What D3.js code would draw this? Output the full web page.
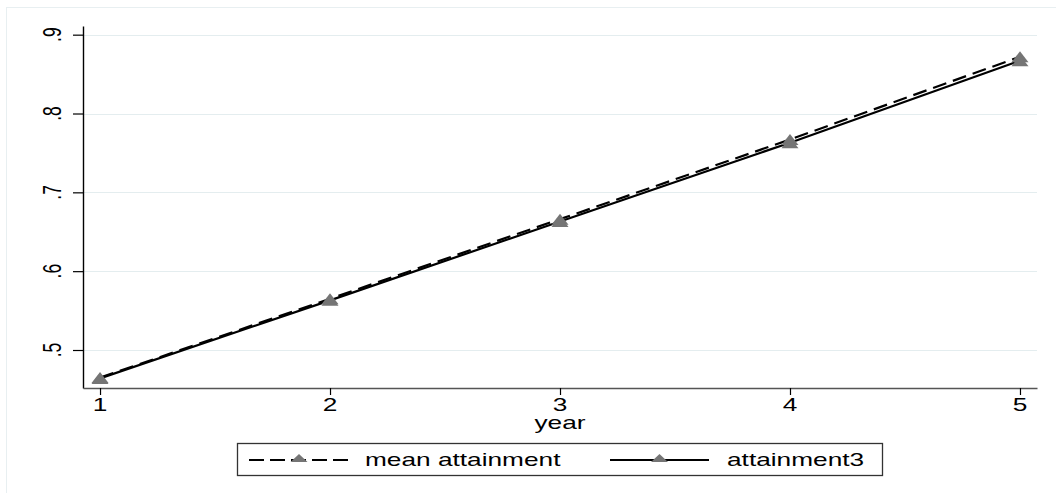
<!DOCTYPE html>
<html>
<head>
<meta charset="utf-8">
<script src="https://cdn.jsdelivr.net/npm/d3@7"></script>
<style>
  body { margin: 0; background: #fff; }
  text { font-family: "Liberation Sans", Arial, sans-serif; }
</style>
</head>
<body>
<svg id="chart" width="1056" height="493"></svg>
<script>
// data
var years = [1, 2, 3, 4, 5];
var meanAttainment = [0.465, 0.565, 0.666, 0.767, 0.872];
var attainment3 = [0.464, 0.563, 0.663, 0.763, 0.867];
var yTicks = [0.5, 0.6, 0.7, 0.8, 0.9];
var yTickLabels = [".5", ".6", ".7", ".8", ".9"];
var seriesNames = ["mean attainment", "attainment3"];

var svg = d3.select("#chart");
var fs = 17.5, stretch = 1.5; // the original was widened, text too

// triangle marker, wider than tall
function triangle(w, h) {
    return "M" + (-w / 2) + "," + (h / 2) + "L0," + (-h / 2) + "L" + (w / 2) + "," + (h / 2) + "Z";
}

// outer graph region frame (light)
svg.append("rect")
    .attr("x", 6.5).attr("y", 7.5)
    .attr("width", 1060).attr("height", 500)
    .attr("fill", "none")
    .attr("stroke", "#e8eff1").attr("stroke-width", 1);

var x = d3.scaleLinear().domain([0.926, 5.074]).range([83, 1037]);
var y = d3.scaleLinear().domain([0.4518, 0.911]).range([388, 26]);

// gridlines
svg.append("g").selectAll("line")
    .data(yTicks)
    .enter().append("line")
    .attr("x1", 84).attr("x2", 1037)
    .attr("y1", function (d) { return Math.round(y(d)) + 0.5; })
    .attr("y2", function (d) { return Math.round(y(d)) + 0.5; })
    .attr("stroke", "#e4edef").attr("stroke-width", 1);

// y axis
var yAxis = d3.axisLeft(y).tickValues(yTicks)
    .tickFormat(function (d, i) { return yTickLabels[i]; })
    .tickSize(10).tickSizeOuter(0);
var gy = svg.append("g").attr("transform", "translate(83,0)").call(yAxis);
gy.select(".domain").attr("stroke", "#000").attr("stroke-width", 1.4);
gy.selectAll(".tick line").attr("stroke", "#000").attr("stroke-width", 1.2);
gy.selectAll(".tick text").remove();
svg.append("g").selectAll("text")
    .data(yTicks)
    .enter().append("text")
    .attr("transform", function (d) {
        return "translate(61," + y(d) + ") scale(" + stretch + ",1) rotate(-90)";
    })
    .attr("text-anchor", "middle")
    .attr("font-size", fs)
    .text(function (d, i) { return yTickLabels[i]; });

// x axis
var xAxis = d3.axisBottom(x).tickValues(years)
    .tickFormat(d3.format("d")).tickSize(7).tickSizeOuter(0);
var gx = svg.append("g").attr("transform", "translate(0,388)").call(xAxis);
gx.select(".domain").attr("stroke", "#555").attr("stroke-width", 1.4);
gx.selectAll(".tick line").attr("stroke", "#000").attr("stroke-width", 1.2);
gx.selectAll(".tick text").remove();
svg.append("g").selectAll("text")
    .data(years)
    .enter().append("text")
    .attr("transform", function (d) {
        return "translate(" + x(d) + ",411) scale(" + stretch + ",1)";
    })
    .attr("text-anchor", "middle")
    .attr("font-size", fs)
    .text(d3.format("d"));

svg.append("text")
    .attr("transform", "translate(" + x(3) + ",429) scale(" + stretch + ",1)")
    .attr("text-anchor", "middle")
    .attr("font-size", fs)
    .text("year");

// lines
var line = function (vals) {
    return d3.line()
        .x(function (d, i) { return x(years[i]); })
        .y(function (d) { return y(d); })(vals);
};

svg.append("path")
    .attr("d", line(attainment3))
    .attr("fill", "none").attr("stroke", "#000").attr("stroke-width", 2.2);
svg.append("path")
    .attr("d", line(meanAttainment))
    .attr("fill", "none").attr("stroke", "#000").attr("stroke-width", 2.2)
    .attr("stroke-dasharray", "14,7");

[meanAttainment, attainment3].forEach(function (vals) {
    svg.append("g").selectAll("path")
        .data(vals)
        .enter().append("path")
        .attr("d", triangle(17, 11))
        .attr("transform", function (d, i) {
            return "translate(" + x(years[i]) + "," + y(d) + ")";
        })
        .attr("fill", "#757575");
});

// legend
var legend = svg.append("g");
legend.append("rect")
    .attr("x", 237.5).attr("y", 443.5)
    .attr("width", 645).attr("height", 32)
    .attr("fill", "#fff").attr("stroke", "#333").attr("stroke-width", 1.3);

var legendItems = [
    { name: seriesNames[0], x0: 249, x1: 349, dash: "15,6", tx: 365 },
    { name: seriesNames[1], x0: 610, x1: 709, dash: null, tx: 727 }
];
legendItems.forEach(function (d) {
    legend.append("line")
        .attr("x1", d.x0).attr("x2", d.x1)
        .attr("y1", 460).attr("y2", 460)
        .attr("stroke", "#000").attr("stroke-width", 2)
        .attr("stroke-dasharray", d.dash);
    legend.append("path")
        .attr("d", triangle(17, 8))
        .attr("transform", "translate(" + ((d.x0 + d.x1) / 2) + ",458)")
        .attr("fill", "#757575");
    legend.append("text")
        .attr("transform", "translate(" + d.tx + ",466) scale(" + stretch + ",1)")
        .attr("font-size", fs)
        .text(d.name);
});
</script>
</body>
</html>
